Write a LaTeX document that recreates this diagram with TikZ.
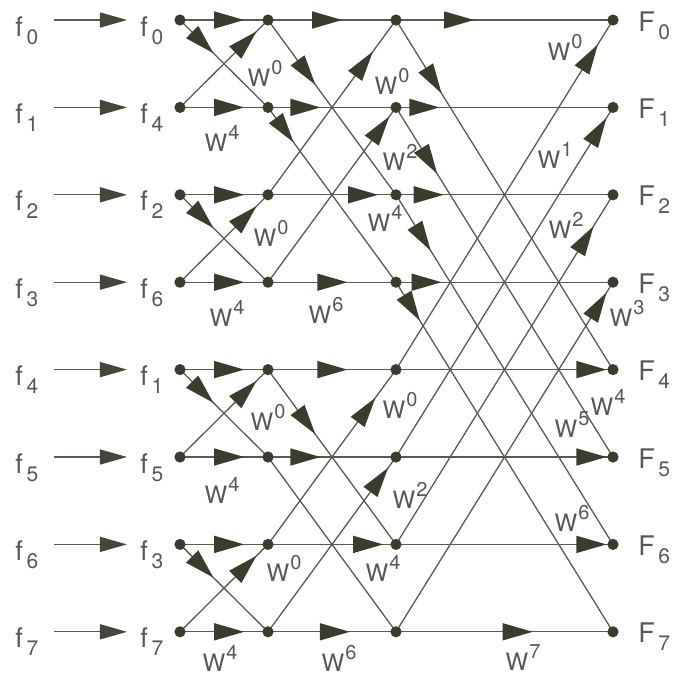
\documentclass[tikz,border=0pt]{standalone}
\usepackage{fontspec}
\setmainfont{TeX Gyre Heros}
\usetikzlibrary{arrows.meta,decorations.markings}

\definecolor{wirec}{HTML}{5a5a52}
\definecolor{headc}{HTML}{3c3c2e}
\definecolor{textc}{HTML}{585858}

\newcommand{\sig}[2]{#1\kern1.8pt\raisebox{-4pt}{\fontsize{10.5}{10.5}\selectfont #2}}
\newcommand{\tw}[1]{W\kern0.6pt\raisebox{6pt}{\fontsize{10}{10}\selectfont #1}}

\tikzset{
  wire/.style={draw=wirec, line width=0.65pt},
  midarr/.style={postaction={decorate, decoration={markings,
      mark=at position #1 with {\arrow{Triangle[length=15pt,width=8.5pt,color=headc]}}}}},
  inarr/.style={wire, -{Triangle[length=13.5pt,width=7.5pt,color=headc!85!gray]}},
  dot/.style={circle, fill=headc, inner sep=0pt, minimum size=5.6pt},
  flab/.style={text=textc, font=\fontsize{13.5}{13.5}\selectfont, inner sep=0pt, anchor=base west},
  twid/.style={text=textc, font=\fontsize{12}{12}\selectfont, inner sep=0pt},
}

\begin{document}
\begin{tikzpicture}[x=0.5pt, y=-0.5pt]
\useasboundingbox (0,0) rectangle (674,677);

% columns of the flow graph
\foreach \i in {0,...,7} {
  \pgfmathsetmacro\y{20+87.4*\i}
  \coordinate (a\i) at (180,\y);
  \coordinate (b\i) at (268,\y);
  \coordinate (c\i) at (396,\y);
  \coordinate (d\i) at (613,\y);
  \coordinate (s\i) at (54,\y);
  \coordinate (t\i) at (127,\y);
}

% inputs, reordered inputs, outputs
\foreach \i/\r in {0/0,1/4,2/2,3/6,4/1,5/5,6/3,7/7} {
  \node[flab] (in\i) at ([shift={(-39,16)}]s\i) {\sig{f}{\i}};
  \node[flab] (re\i) at ([shift={(-40,16)}]a\i) {\sig{f}{\r}};
  \node[flab] (out\i) at ([shift={(25,11)}]d\i) {\sig{F}{\i}};
  \draw[inarr] (s\i) -- (t\i);
}

% stage 1
\foreach \i in {0,...,7}
  \draw[wire, midarr=0.73] (a\i) -- (b\i);
\foreach \i/\j in {0/1,2/3,4/5,6/7} {
  \draw[wire, midarr=0.38] (a\i) -- (b\j);
  \draw[wire, midarr=0.87] (a\j) -- (b\i);
}

% stage 2
\foreach \i/\p in {0/0.58,1/0.41,2/0.86,3/0.62,4/0.62,5/0.41,6/0.9,7/0.64}
  \draw[wire, midarr=\p] (b\i) -- (c\i);
\draw[wire, midarr=0.37] (b0) -- (c2);
\draw[wire, midarr=0.2] (b1) -- (c3);
\draw[wire, midarr=0.37] (b4) -- (c6);
\draw[wire] (b5) -- (c7);
\foreach \i/\j/\p in {2/0/0.82,3/1/0.95,6/4/0.84,7/5/0.94}
  \draw[wire, midarr=\p] (b\i) -- (c\j);

% stage 3
\foreach \i/\p in {0/0.36,1/0.2,2/0.22,3/0.21,4/0.97,5/0.97,6/0.97,7/0.63}
  \draw[wire, midarr=\p] (c\i) -- (d\i);
\foreach \i/\j/\p in {0/4/0.21,1/5/0.19,2/6/0.16,3/7/0.11}
  \draw[wire, midarr=\p] (c\i) -- (d\j);
\foreach \i/\j/\p in {4/0/0.93,5/1/0.97,6/2/0.91,7/3/0.97}
  \draw[wire, midarr=\p] (c\i) -- (d\j);

% dots
\foreach \col in {a,b,c,d}
  \foreach \i in {0,...,7}
    \node[dot] (dot-\col\i) at (\col\i) {};

% twiddle factors
\foreach \n/\x/\y/\k in {wa0/265/73/0, wa1/222/138/4, wa2/271/233/0, wa3/227/313/4,
    wa4/268/417/0, wa5/222/490/4, wa6/284/568/0, wa7/220/658/4,
    wb0/392/81/0, wb1/400/157/2, wb2/385/218/4, wb3/326/310/6,
    wb4/400/405/0, wb5/410/495/2, wb6/383/568/4, wb7/339/658/6,
    wc0/565/47/0, wc1/555/155/1, wc2/566/225/2, wc3/627/313/3,
    wc4/608/402/4, wc5/572/425/5, wc6/572/518/6, wc7/523/658/7}
  \node[twid] (\n) at (\x,\y) {\tw{\k}};

\end{tikzpicture}
\end{document}
